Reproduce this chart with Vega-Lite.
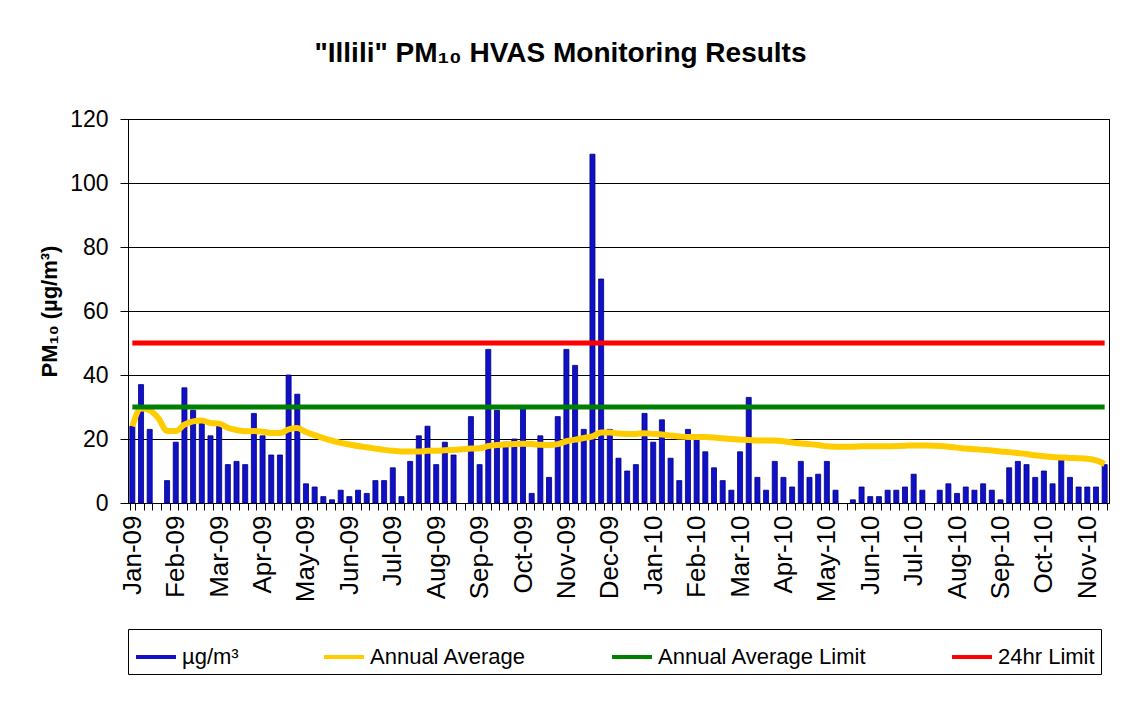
{
  "$schema": "https://vega.github.io/schema/vega-lite/v6.json",
  "width": 981,
  "height": 384,
  "padding": {"left": 38, "top": 40, "right": 22, "bottom": 18},
  "background": "#ffffff",
  "title": {
    "text": "\"Illili\" PM₁₀ HVAS Monitoring Results",
    "fontSize": 28,
    "fontWeight": "bold",
    "font": "Liberation Sans",
    "color": "#000000",
    "anchor": "middle",
    "dx": -58,
    "offset": 40
  },
  "data": {
    "values": [
      {"n": 1, "pm": 24, "avg": 24},
      {"n": 2, "pm": 37, "avg": 29.5},
      {"n": 3, "pm": 23, "avg": 29},
      {"n": 4, "pm": null, "avg": 26.5},
      {"n": 5, "pm": 7, "avg": 22.5},
      {"n": 6, "pm": 19, "avg": 22.5},
      {"n": 7, "pm": 36, "avg": 24.5},
      {"n": 8, "pm": 29, "avg": 25.5},
      {"n": 9, "pm": 25, "avg": 25.8},
      {"n": 10, "pm": 21, "avg": 25},
      {"n": 11, "pm": 25, "avg": 24.8},
      {"n": 12, "pm": 12, "avg": 23.5},
      {"n": 13, "pm": 13, "avg": 22.8},
      {"n": 14, "pm": 12, "avg": 22.4},
      {"n": 15, "pm": 28, "avg": 22.5},
      {"n": 16, "pm": 21, "avg": 22.3},
      {"n": 17, "pm": 15, "avg": 21.9},
      {"n": 18, "pm": 15, "avg": 21.9},
      {"n": 19, "pm": 40, "avg": 23},
      {"n": 20, "pm": 34, "avg": 23.4},
      {"n": 21, "pm": 6, "avg": 22.2},
      {"n": 22, "pm": 5, "avg": 21.2},
      {"n": 23, "pm": 2, "avg": 20.3},
      {"n": 24, "pm": 1, "avg": 19.5},
      {"n": 25, "pm": 4, "avg": 18.8},
      {"n": 26, "pm": 2, "avg": 18.3},
      {"n": 27, "pm": 4, "avg": 17.8},
      {"n": 28, "pm": 3, "avg": 17.4},
      {"n": 29, "pm": 7, "avg": 17},
      {"n": 30, "pm": 7, "avg": 16.6},
      {"n": 31, "pm": 11, "avg": 16.3},
      {"n": 32, "pm": 2, "avg": 16.1},
      {"n": 33, "pm": 13, "avg": 16.1},
      {"n": 34, "pm": 21, "avg": 16.1},
      {"n": 35, "pm": 24, "avg": 16.3},
      {"n": 36, "pm": 12, "avg": 16.3},
      {"n": 37, "pm": 19, "avg": 16.5},
      {"n": 38, "pm": 15, "avg": 16.6},
      {"n": 39, "pm": null, "avg": 16.8},
      {"n": 40, "pm": 27, "avg": 17},
      {"n": 41, "pm": 12, "avg": 17.1},
      {"n": 42, "pm": 48, "avg": 17.8},
      {"n": 43, "pm": 29, "avg": 18.1},
      {"n": 44, "pm": 19, "avg": 18.3},
      {"n": 45, "pm": 20, "avg": 18.4},
      {"n": 46, "pm": 30, "avg": 18.5},
      {"n": 47, "pm": 3, "avg": 18.4},
      {"n": 48, "pm": 21, "avg": 18.2},
      {"n": 49, "pm": 8, "avg": 18.1},
      {"n": 50, "pm": 27, "avg": 18.4},
      {"n": 51, "pm": 48, "avg": 19.3},
      {"n": 52, "pm": 43, "avg": 19.8},
      {"n": 53, "pm": 23, "avg": 20.3},
      {"n": 54, "pm": 109, "avg": 20.8},
      {"n": 55, "pm": 70, "avg": 22},
      {"n": 56, "pm": 23, "avg": 22},
      {"n": 57, "pm": 14, "avg": 21.7},
      {"n": 58, "pm": 10, "avg": 21.6},
      {"n": 59, "pm": 12, "avg": 21.6},
      {"n": 60, "pm": 28, "avg": 21.8},
      {"n": 61, "pm": 19, "avg": 21.6},
      {"n": 62, "pm": 26, "avg": 21.4},
      {"n": 63, "pm": 14, "avg": 21.1},
      {"n": 64, "pm": 7, "avg": 20.8},
      {"n": 65, "pm": 23, "avg": 20.6},
      {"n": 66, "pm": 20, "avg": 20.6},
      {"n": 67, "pm": 16, "avg": 20.6},
      {"n": 68, "pm": 11, "avg": 20.5},
      {"n": 69, "pm": 7, "avg": 20.2},
      {"n": 70, "pm": 4, "avg": 20},
      {"n": 71, "pm": 16, "avg": 19.8},
      {"n": 72, "pm": 33, "avg": 19.7},
      {"n": 73, "pm": 8, "avg": 19.5},
      {"n": 74, "pm": 4, "avg": 19.5},
      {"n": 75, "pm": 13, "avg": 19.5},
      {"n": 76, "pm": 8, "avg": 19.3},
      {"n": 77, "pm": 5, "avg": 18.9},
      {"n": 78, "pm": 13, "avg": 18.6},
      {"n": 79, "pm": 8, "avg": 18.4},
      {"n": 80, "pm": 9, "avg": 18.1},
      {"n": 81, "pm": 13, "avg": 17.7},
      {"n": 82, "pm": 4, "avg": 17.6},
      {"n": 83, "pm": null, "avg": 17.6},
      {"n": 84, "pm": 1, "avg": 17.6},
      {"n": 85, "pm": 5, "avg": 17.7},
      {"n": 86, "pm": 2, "avg": 17.7},
      {"n": 87, "pm": 2, "avg": 17.7},
      {"n": 88, "pm": 4, "avg": 17.7},
      {"n": 89, "pm": 4, "avg": 17.8},
      {"n": 90, "pm": 5, "avg": 17.9},
      {"n": 91, "pm": 9, "avg": 18},
      {"n": 92, "pm": 4, "avg": 18},
      {"n": 93, "pm": null, "avg": 17.9},
      {"n": 94, "pm": 4, "avg": 17.8},
      {"n": 95, "pm": 6, "avg": 17.6},
      {"n": 96, "pm": 3, "avg": 17.3},
      {"n": 97, "pm": 5, "avg": 17},
      {"n": 98, "pm": 4, "avg": 16.8},
      {"n": 99, "pm": 6, "avg": 16.6},
      {"n": 100, "pm": 4, "avg": 16.4},
      {"n": 101, "pm": 1, "avg": 16.1},
      {"n": 102, "pm": 11, "avg": 15.9},
      {"n": 103, "pm": 13, "avg": 15.6},
      {"n": 104, "pm": 12, "avg": 15.3},
      {"n": 105, "pm": 8, "avg": 14.9},
      {"n": 106, "pm": 10, "avg": 14.6},
      {"n": 107, "pm": 6, "avg": 14.4},
      {"n": 108, "pm": 14, "avg": 14.2},
      {"n": 109, "pm": 8, "avg": 14.1},
      {"n": 110, "pm": 5, "avg": 14},
      {"n": 111, "pm": 5, "avg": 13.8},
      {"n": 112, "pm": 5, "avg": 13.3},
      {"n": 113, "pm": 12, "avg": 12.2}
    ]
  },
  "encoding": {
    "x": {
      "field": "n",
      "type": "ordinal",
      "scale": {"paddingInner": 0.42, "paddingOuter": 0.21},
      "axis": {
        "title": null,
        "labelAngle": 270,
        "tickBand": "extent",
        "tickSize": 7,
        "labelPadding": 5,
        "labelFontSize": 26,
        "labelOverlap": false,
        "labelExpr": "(datum.value - 1) % 5 == 0 ? ['Jan-09','Feb-09','Mar-09','Apr-09','May-09','Jun-09','Jul-09','Aug-09','Sep-09','Oct-09','Nov-09','Dec-09','Jan-10','Feb-10','Mar-10','Apr-10','May-10','Jun-10','Jul-10','Aug-10','Sep-10','Oct-10','Nov-10'][floor((datum.value - 1) / 5)] : ''"
      }
    }
  },
  "layer": [
    {
      "mark": {"type": "bar", "stroke": "#00007A", "strokeWidth": 0.8},
      "encoding": {
        "y": {
          "field": "pm",
          "type": "quantitative",
          "scale": {"domain": [0, 120]},
          "axis": {
            "title": "PM₁₀ (µg/m³)",
            "values": [0, 20, 40, 60, 80, 100, 120],
            "grid": true,
            "gridColor": "#000000",
            "gridWidth": 1,
            "gridOpacity": 1,
            "tickSize": 8,
            "labelPadding": 12,
            "labelFontSize": 23,
            "titleFontSize": 22,
            "titleFontWeight": "bold",
            "titlePadding": 8
          }
        },
        "color": {
          "datum": "µg/m³",
          "scale": {
            "domain": ["µg/m³", "Annual Average", "Annual Average Limit", "24hr Limit"],
            "range": ["#1010C8", "#FFCC00", "#008000", "#FF0000"]
          },
          "legend": {
            "title": null,
            "orient": "bottom",
            "direction": "horizontal",
            "symbolType": "stroke",
            "encode": {
              "symbols": {
                "shape": {"condition": {"test": "datum.index === 0", "value": "M-1,-0.28L1,-0.28L1,0.28L-1,0.28Z"}, "value": "stroke"},
                "strokeWidth": {"condition": {"test": "datum.index === 0", "value": 1}, "value": 4}
              }
            }
          }
        }
      }
    },
    {
      "mark": {"type": "line", "strokeWidth": 6, "interpolate": "monotone"},
      "encoding": {
        "y": {"field": "avg", "type": "quantitative"},
        "color": {"datum": "Annual Average"}
      }
    },
    {
      "mark": {"type": "line", "strokeWidth": 5},
      "encoding": {
        "y": {"datum": 30},
        "color": {"datum": "Annual Average Limit"}
      }
    },
    {
      "mark": {"type": "line", "strokeWidth": 5},
      "encoding": {
        "y": {"datum": 50},
        "color": {"datum": "24hr Limit"}
      }
    }
  ],
  "config": {
    "font": "Liberation Sans",
    "view": {"stroke": "#000000", "strokeWidth": 1},
    "axis": {
      "domainColor": "#000000",
      "tickColor": "#000000",
      "labelColor": "#000000",
      "titleColor": "#000000",
      "labelFont": "Liberation Sans",
      "titleFont": "Liberation Sans"
    },
    "legend": {
      "strokeColor": "#000000",
      "padding": 6,
      "columnPadding": 77,
      "labelFontSize": 22,
      "labelColor": "#000000",
      "labelLimit": 400,
      "symbolSize": 1600,
      "symbolType": "stroke",
      "symbolStrokeWidth": 4,
      "offset": 27
    }
  }
}
